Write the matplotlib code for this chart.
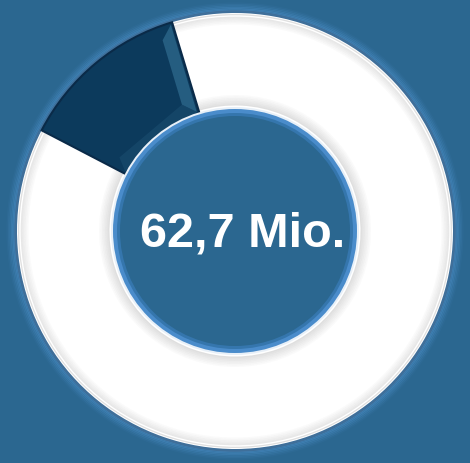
import numpy as np
import matplotlib
matplotlib.use('Agg')
import matplotlib.pyplot as plt
from matplotlib.patches import Circle, Wedge, Polygon

# share of the ring (percent)
labels = ['Anteil', 'Rest']
shares = [12.7, 87.3]
center_text = '62,7 Mio.'

bg = '#2b6790'
ring_colors = ['#0c3a5c', '#ffffff']

fig = plt.figure(figsize=(4.7, 4.64), dpi=100)
fig.patch.set_facecolor(bg)
ax = fig.add_axes([0, 0, 1, 1])
ax.set_facecolor(bg)
ax.set_xlim(0, 470)
ax.set_ylim(0, 464)
ax.set_aspect('equal')
ax.axis('off')

cx, cy = 235, 232
r_out, r_in = 218, 123


def pt(r, deg):
    return cx + r * np.cos(np.radians(deg)), cy + r * np.sin(np.radians(deg))


# outer glow
for i, a in enumerate(np.linspace(0.35, 0.05, 6)):
    ax.add_patch(Circle((cx, cy), r_out + 2 + i * 1.5, facecolor='none',
                        edgecolor='#5aa0e0', lw=1.6, alpha=a))
ax.add_patch(Circle((cx, cy), r_out + 1, facecolor='none', edgecolor='#3f6f9a', lw=2.5))

wedges, _ = ax.pie(shares, colors=ring_colors, startangle=152.5, counterclock=False,
                   radius=r_out, center=(cx, cy), frame=True,
                   wedgeprops=dict(width=r_out - r_in, edgecolor='none'))
wedges[0].set_edgecolor('#0a2a48')
wedges[0].set_linewidth(1.5)
wedges[0].set_zorder(3)

# soft grey shading on the white part near its edges
t1 = 152.5
t0 = t1 - shares[0] / 100 * 360
for i, a in enumerate(np.linspace(0.22, 0.0, 8)):
    ax.add_patch(Wedge((cx, cy), r_out - 1 - i * 1.5, t1, t0 + 360, width=1.5,
                       facecolor='#707070', edgecolor='none', alpha=a, zorder=2))
    ax.add_patch(Wedge((cx, cy), r_in + 4 + i * 1.5, t1, t0 + 360, width=1.5,
                       facecolor='#707070', edgecolor='none', alpha=a, zorder=2))
ax.add_patch(Circle((cx, cy), r_out - 3, facecolor='none', edgecolor='#ffffff', lw=1.0, zorder=2))

# bevel facets on the dark wedge
facet = Polygon([pt(r_out - 2, t0 + 0.5), pt(r_in + 2, t0 + 1), pt(r_in + 14, t0 + 6),
                 pt(r_out - 14, t0 + 4)], closed=True, facecolor='#3a7a9e',
                edgecolor='none', alpha=0.55, zorder=4)
ax.add_patch(facet)
facet2 = Polygon([pt(r_in + 2, t0 + 1), pt(r_in + 2, t1 - 1), pt(r_in + 14, t1 - 5),
                  pt(r_in + 14, t0 + 6)], closed=True, facecolor='#1b4d70',
                 edgecolor='none', alpha=0.6, zorder=4)
ax.add_patch(facet2)

# inner disc with lighter rim
ax.add_patch(Circle((cx, cy), r_in + 1, facecolor='#e8f0f8', edgecolor='none', zorder=5))
ax.add_patch(Circle((cx, cy), r_in - 1, facecolor='#4a8ccb', edgecolor='none', zorder=5))
ax.add_patch(Circle((cx, cy), r_in - 5, facecolor='#3576ad', edgecolor='none', zorder=5))
ax.add_patch(Circle((cx, cy), r_in - 8, facecolor=bg, edgecolor='none', zorder=5))

ax.text(cx + 8, 217, center_text, ha='center', va='baseline', color='white',
        fontsize=35, fontweight='bold', family=['Liberation Sans', 'DejaVu Sans'], zorder=6)

fig.savefig('out.png', dpi=100, facecolor=bg)
